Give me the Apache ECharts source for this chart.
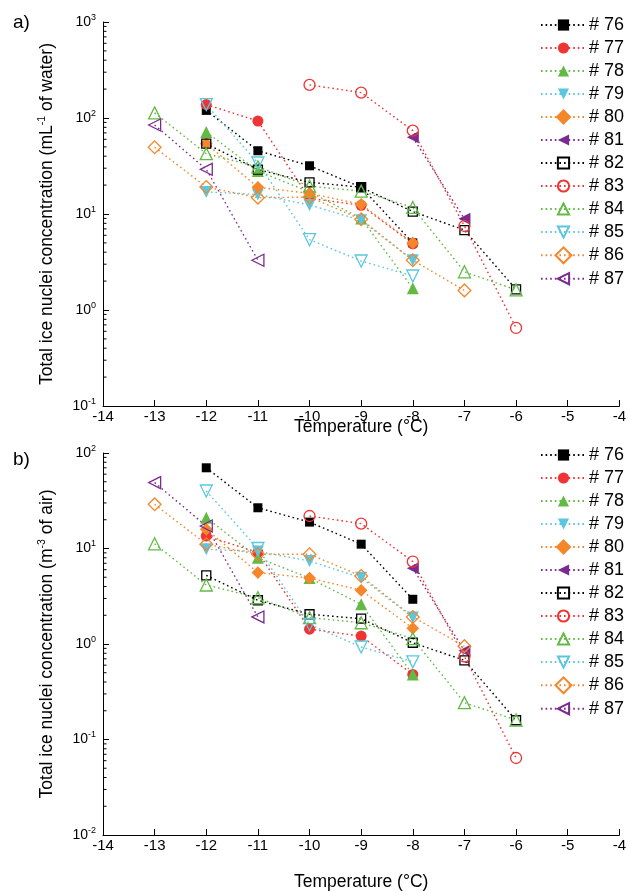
<!DOCTYPE html>
<html>
<head>
<meta charset="utf-8">
<script src="https://cdn.jsdelivr.net/npm/echarts@6/dist/echarts.min.js"></script>
<style>
html,body{margin:0;padding:0;background:#fff;}
#chart{width:629px;height:892px;}
</style>
</head>
<body>
<div id="chart"></div>
<script>
// ---------- DATA ----------
const temps = [-13, -12, -11, -10, -9, -8, -7, -6];
const names = ['# 76','# 77','# 78','# 79','# 80','# 81','# 82','# 83','# 84','# 85','# 86','# 87'];
const xTicks = [-14, -13, -12, -11, -10, -9, -8, -7, -6, -5, -4];

// panel a) per mL of water (null = not measured)
const water76 = [null, 120, 45.6, 31.8, 19, 5.0, null, null];
const water77 = [null, 138, 93, 14.6, 12.3, 4.9, null, null];
const water78 = [null, 71.5, 28, 17, 9, 1.68, null, null];
const water79 = [null, 17, 16, 12.4, 8.6, 3.3, null, null];
const water80 = [null, 54, 19, 16.4, 12.6, 5.0, null, null];
const water81 = [null, null, null, null, null, 63, 8.9, null];
const water82 = [null, 54, 29, 21.4, 19, 10.6, 6.8, 1.64];
const water83 = [null, null, null, 221, 184, 73.8, 7.5, 0.65];
const water84 = [113, 42.5, 31, 19.5, 17.3, 11.7, 2.5, 1.62];
const water85 = [null, 138, 34, 5.4, 3.24, 2.26, null, null];
const water86 = [49.5, 19.1, 14.8, 15, 8.8, 3.3, 1.6, null];
const water87 = [84.6, 29.2, 3.3, null, null, null, null, null];

// panel b) per m3 of air
const air76 = [null, 70, 26.7, 18.9, 11.1, 2.94, null, null];
const air77 = [null, 13.5, 9.1, 1.43, 1.21, 0.48, null, null];
const air78 = [null, 21, 8.0, 4.9, 2.6, 0.48, null, null];
const air79 = [null, 9.8, 9.3, 7.4, 4.95, 1.9, null, null];
const air80 = [null, 15.9, 5.6, 4.9, 3.65, 1.46, null, null];
const air81 = [null, null, null, null, null, 6.2, 0.85, null];
const air82 = [null, 5.24, 2.87, 2.05, 1.84, 1.03, 0.675, 0.159];
const air83 = [null, null, null, 21.9, 18.2, 7.3, 0.74, 0.064];
const air84 = [11.2, 4.15, 3.05, 1.89, 1.67, 1.14, 0.243, 0.16];
const air85 = [null, 40, 10, 1.6, 0.93, 0.65, null, null];
const air86 = [29, 11.1, 8.7, 8.7, 5.15, 1.92, 0.95, null];
const air87 = [49, 17.2, 1.92, null, null, null, null, null];

const waterSets = [water76, water77, water78, water79, water80, water81, water82, water83, water84, water85, water86, water87];
const airSets = [air76, air77, air78, air79, air80, air81, air82, air83, air84, air85, air86, air87];

// ---------- STYLES ----------
const FONT = 'Liberation Sans, Arial, Helvetica, sans-serif';
const C = {k:'#000000', r:'#ee3434', g:'#62ba45', c:'#5bc6dd', o:'#f5872a', p:'#7b2b8f'};
const styles = [
  {color:C.k, symbol:'rect', size:9, rot:0, open:false},
  {color:C.r, symbol:'circle', size:11, rot:0, open:false},
  {color:C.g, symbol:'triangle', size:12, rot:0, open:false},
  {color:C.c, symbol:'triangle', size:12, rot:180, open:false},
  {color:C.o, symbol:'rect', size:9, rot:45, open:false},
  {color:C.p, symbol:'triangle', size:12, rot:90, open:false},
  {color:C.k, symbol:'rect', size:9, rot:0, open:true},
  {color:C.r, symbol:'circle', size:11, rot:0, open:true},
  {color:C.g, symbol:'triangle', size:12, rot:0, open:true},
  {color:C.c, symbol:'triangle', size:12, rot:180, open:true},
  {color:C.o, symbol:'rect', size:9, rot:45, open:true},
  {color:C.p, symbol:'triangle', size:12, rot:90, open:true}
];

function mkSeries(name, vals, idx, st) {
  return {
    type: 'line', name: name, xAxisIndex: idx, yAxisIndex: idx,
    data: temps.map((t, i) => [t, vals[i]]).filter(d => d[1] != null),
    symbol: st.symbol, symbolSize: st.size, symbolRotate: st.rot,
    itemStyle: st.open ? {color: 'rgba(255,255,255,0)', borderColor: st.color, borderWidth: 1.3}
                       : {color: st.color, borderColor: st.color, borderWidth: 0},
    lineStyle: {color: st.color, width: 1.4, type: [1.6, 3]},
    emphasis: {disabled: true},
    clip: false, z: 3
  };
}

// minor log ticks through the y scale
function minorTicks(idx, lo, hi) {
  const d = [];
  for (let e = lo; e < hi; e++) for (let k = 2; k <= 9; k++) d.push([-14, k * Math.pow(10, e)]);
  return {
    type: 'custom', xAxisIndex: idx, yAxisIndex: idx, silent: true, z: 2,
    data: d,
    renderItem: function (params, api) {
      const p = api.coord([api.value(0), api.value(1)]);
      return {type: 'line', shape: {x1: p[0], y1: p[1], x2: p[0] + 3.5, y2: p[1]}, style: {stroke: '#000', lineWidth: 1}};
    }
  };
}

const supRich = {
  b: {fontSize: 14, lineHeight: 18, fontFamily: FONT, color: '#000'},
  s: {fontSize: 9, lineHeight: 9, verticalAlign: 'top', fontFamily: FONT, color: '#000'}
};
const nameRich = {
  n: {fontSize: 17.5, lineHeight: 20, fontFamily: FONT, color: '#000'},
  s: {fontSize: 10.5, lineHeight: 10, verticalAlign: 'top', fontFamily: FONT, color: '#000'}
};

function yAxisDef(idx, min, max, nm) {
  return {
    type: 'log', logBase: 10, min: min, max: max, gridIndex: idx, splitNumber: 4,
    axisLine: {show: true, lineStyle: {color: '#000', width: 1}},
    axisTick: {show: true, inside: true, length: 6, lineStyle: {color: '#000'}},
    splitLine: {show: false},
    axisLabel: {
      margin: 7,
      formatter: function (v) { return '{b|10}{s|' + Math.round(Math.log10(v)) + '}'; },
      rich: supRich
    },
    name: nm, nameLocation: 'middle', nameGap: 46, nameRotate: 90, nameMoveOverlap: false,
    nameTextStyle: {rich: nameRich}
  };
}
function xAxisDef(idx, gap) {
  return {
    type: 'value', min: -14, max: -4, interval: 1, gridIndex: idx,
    axisLine: {show: true, onZero: false, lineStyle: {color: '#000', width: 1}},
    axisTick: {show: true, inside: true, length: 6, lineStyle: {color: '#000'}},
    splitLine: {show: false},
    axisLabel: {margin: 3, fontSize: 15, fontFamily: FONT, color: '#000',
      formatter: function (v) { return xTicks.indexOf(v) >= 0 ? String(v) : ''; }},
    name: 'Temperature (°C)', nameLocation: 'middle', nameGap: gap, nameMoveOverlap: false,
    nameTextStyle: {fontSize: 17.5, lineHeight: 18, fontFamily: FONT, color: '#000'}
  };
}

const series = [];
names.forEach((n, i) => series.push(mkSeries(n, waterSets[i], 0, styles[i])));
names.forEach((n, i) => series.push(mkSeries(n, airSets[i], 1, styles[i])));
series.push(minorTicks(0, -1, 3));
series.push(minorTicks(1, -2, 2));

function legendDef(top) {
  return {
    orient: 'vertical', left: 540, top: top, data: names, padding: 0,
    itemWidth: 45, itemHeight: 14, itemGap: 5, selectedMode: false,
    textStyle: {fontSize: 18, lineHeight: 18, fontFamily: FONT, color: '#000', padding: [0, 0, 0, -2]}
  };
}

const option = {
  animation: false,
  backgroundColor: '#fff',
  title: [
    {text: 'a)', left: 8, top: 8, textStyle: {fontSize: 19, fontWeight: 'normal', fontFamily: FONT, color: '#000'}},
    {text: 'b)', left: 8, top: 445, textStyle: {fontSize: 19, fontWeight: 'normal', fontFamily: FONT, color: '#000'}}
  ],
  grid: [
    {left: 103, top: 22, width: 521, height: 384},
    {left: 103, top: 453, width: 521, height: 382}
  ],
  xAxis: [xAxisDef(0, 12), xAxisDef(1, 38)],
  yAxis: [
    yAxisDef(0, 0.1, 1000, '{n|Total ice nuclei concentration (mL}{s|-1}{n| of water)}'),
    yAxisDef(1, 0.01, 100, '{n|Total ice nuclei concentration (m}{s|-3}{n| of air)}')
  ],
  legend: [legendDef(16), legendDef(446)],
  series: series
};

const chart = echarts.init(document.getElementById('chart'), null, {renderer: 'canvas'});
chart.setOption(option);
</script>
</body>
</html>
